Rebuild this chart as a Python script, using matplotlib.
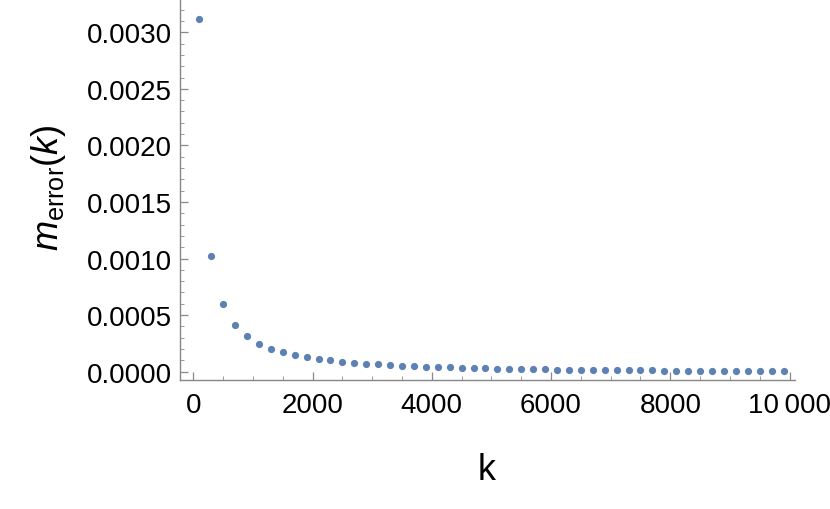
import numpy as np
import matplotlib
matplotlib.use("Agg")
import matplotlib.pyplot as plt
from matplotlib.ticker import MultipleLocator, FixedLocator, FuncFormatter

plt.rcParams['font.family'] = ['Liberation Sans', 'DejaVu Sans']
plt.rcParams['mathtext.fontset'] = 'custom'
plt.rcParams['mathtext.rm'] = 'Liberation Sans'
plt.rcParams['mathtext.it'] = 'Liberation Sans:italic'

# data
k_vals = list(range(100, 10000, 200))
m_error = [
    0.00312, 0.00102, 0.000599, 0.000416, 0.000312, 0.000248, 0.000204, 0.000171,
    0.000148, 0.000127, 0.000112, 0.000100, 0.000088, 0.000079, 0.000071, 0.000064,
    0.000058, 0.000053, 0.000048, 0.000044, 0.000041, 0.000038, 0.000035, 0.000032,
    0.000030, 0.000028, 0.000026, 0.000024, 0.000022, 0.000021, 0.000019, 0.000018,
    0.000017, 0.000016, 0.000015, 0.000014, 0.000013, 0.000012, 0.000011, 0.000010,
    0.000010, 0.000009, 0.000008, 0.000008, 0.000007, 0.000007, 0.000006, 0.000006,
    0.000005, 0.000005,
]
x_ticks = [0, 2000, 4000, 6000, 8000, 10000]
x_tick_labels = ['0', '2000', '4000', '6000', '8000', '10\u2009000']
y_ticks = [0.0, 0.0005, 0.0010, 0.0015, 0.0020, 0.0025, 0.0030]

fig = plt.figure(figsize=(8.3, 5.1), dpi=100)
ax = fig.add_axes([180 / 830, 1 - 380.7 / 510, 615 / 830, 380.7 / 510])

ax.plot(k_vals, m_error, 'o', color='#5E81B5', markersize=5.2, markeredgewidth=0)

ax.set_xlim(-223, 10092)
ax.set_ylim(-0.0000707, 0.003294)

ax.xaxis.set_major_locator(FixedLocator(x_ticks))
ax.set_xticklabels(x_tick_labels)
ax.xaxis.set_minor_locator(MultipleLocator(500))
ax.yaxis.set_major_locator(FixedLocator(y_ticks))
ax.yaxis.set_major_formatter(FuncFormatter(lambda v, p: f"{v:.4f}"))
ax.yaxis.set_minor_locator(MultipleLocator(0.0001))

for s in ['top', 'right']:
    ax.spines[s].set_visible(False)
for s in ['left', 'bottom']:
    ax.spines[s].set_color('#888888')
    ax.spines[s].set_linewidth(1.0)

ax.tick_params(which='major', direction='in', length=6, width=0.9, color='#888888',
               labelsize=20, labelcolor='black', pad=6)
ax.tick_params(which='minor', direction='in', length=3, width=0.7, color='#999999')
ax.tick_params(axis='x', which='major', pad=9)

ax.set_xlabel('k', fontsize=26)
ax.xaxis.set_label_coords(0.499, -0.2346)
ax.xaxis.label.set_va('center')
ax.set_ylabel(r'$m_{\mathrm{error}}(k)$', fontsize=26)
ax.yaxis.set_label_coords(-0.2146, 0.506)
ax.yaxis.label.set_va('center')

fig.savefig('out.png', dpi=100)
